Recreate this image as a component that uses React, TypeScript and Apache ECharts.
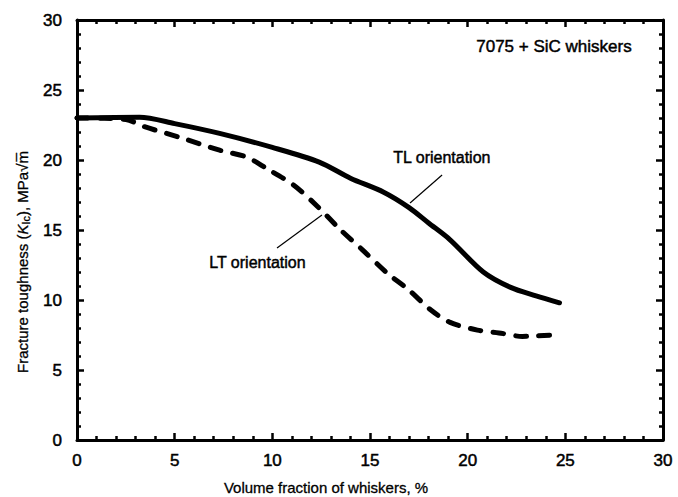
import React, { useEffect, useRef } from "react";
import * as echarts from "echarts";

const tlX = [0, 3.2, 5, 7.3, 10, 12.4, 14, 15.7, 17, 18, 19.1, 20.8, 22.2, 23.5, 24.7];
const tlY = [23.0, 23.05, 22.6, 21.9, 20.9, 19.85, 18.7, 17.7, 16.6, 15.5, 14.3, 12.0, 10.9, 10.3, 9.8];
const ltX = [0, 2.5, 3.4, 5.3, 7.3, 8.7, 9.7, 11.1, 12.3, 13.5, 14.6, 15.9, 17.0, 18.1, 19.1, 20.5, 21.6, 22.8, 24.4];
const ltY = [23.0, 22.9, 22.4, 21.6, 20.7, 20.2, 19.4, 18.2, 16.7, 15.0, 13.6, 11.9, 10.7, 9.3, 8.4, 7.85, 7.65, 7.4, 7.5];
const tlLeader = [[18.69, 18.93], [17.05, 16.93]];
const ltLeader = [[12.54, 16.07], [10.24, 13.71]];
const xTicks = [0, 5, 10, 15, 20, 25, 30];
const yTicks = [0, 5, 10, 15, 20, 25, 30];

const FONT = "'Liberation Sans', Arial, sans-serif";
const STROKE = { stroke: "#000", lineWidth: 0.45 };

export default function App() {
  const ref = useRef<HTMLDivElement>(null);
  useEffect(() => {
    const chart = echarts.init(ref.current!, null, { renderer: "svg" });
    const axisCommon = (show: boolean, ticks: number[], margin: number) => ({
      type: "value" as const,
      min: 0,
      max: 30,
      interval: 5,
      axisLine: { show: true, onZero: false, lineStyle: { color: "#000", width: 3 } },
      axisTick: { show: true, inside: true, length: 7, lineStyle: { color: "#000", width: 2.5 } },
      minorTick: { show: true, splitNumber: 5, length: 4, lineStyle: { color: "#000", width: 2.5 } },
      splitLine: { show: false },
      axisLabel: {
        show,
        color: "#000",
        fontSize: 17,
        fontFamily: FONT,
        margin,
        textBorderColor: "#000",
        textBorderWidth: 0.5,
        formatter: (v: number) => (ticks.includes(v) ? String(v) : ""),
      },
    });
    chart.setOption({
      animation: false,
      grid: { left: 77, right: 15, top: 20, bottom: 57, containLabel: false },
      xAxis: [
        { ...axisCommon(true, xTicks, 12), position: "bottom" },
        { ...axisCommon(false, xTicks, 12), position: "top" },
      ],
      yAxis: [
        { ...axisCommon(true, yTicks, 15), position: "left" },
        { ...axisCommon(false, yTicks, 15), position: "right" },
      ],
      series: [
        {
          name: "TL orientation",
          type: "line",
          xAxisIndex: 0,
          yAxisIndex: 0,
          data: tlX.map((x, i) => [x, tlY[i]]),
          smooth: 0.3,
          showSymbol: false,
          lineStyle: { color: "#000", width: 5, cap: "round", join: "round" },
          silent: true,
        },
        {
          name: "LT orientation",
          type: "line",
          xAxisIndex: 0,
          yAxisIndex: 0,
          data: ltX.map((x, i) => [x, ltY[i]]),
          smooth: 0.3,
          showSymbol: false,
          lineStyle: { color: "#000", width: 5, type: [11, 12], cap: "round", join: "round" },
          silent: true,
        },
        {
          type: "line",
          xAxisIndex: 0,
          yAxisIndex: 0,
          data: tlLeader,
          showSymbol: false,
          lineStyle: { color: "#000", width: 1.2 },
          silent: true,
        },
        {
          type: "line",
          xAxisIndex: 0,
          yAxisIndex: 0,
          data: ltLeader,
          showSymbol: false,
          lineStyle: { color: "#000", width: 1.2 },
          silent: true,
        },
      ],
      graphic: [
        {
          type: "text",
          left: 476,
          top: 38,
          style: { text: "7075 + SiC whiskers", fill: "#000", font: `17px ${FONT}`, ...STROKE },
        },
        {
          type: "text",
          left: 393,
          top: 149,
          style: { text: "TL orientation", fill: "#000", font: `16px ${FONT}`, ...STROKE },
        },
        {
          type: "text",
          left: 209,
          top: 254,
          style: { text: "LT orientation", fill: "#000", font: `16px ${FONT}`, ...STROKE },
        },
        {
          type: "text",
          x: 326,
          y: 487,
          style: {
            text: "Volume fraction of whiskers, %",
            fill: "#000",
            font: `15px ${FONT}`,
            align: "center",
            verticalAlign: "middle",
            ...STROKE,
            lineWidth: 0.3,
          },
        },
        {
          type: "text",
          x: 22,
          y: 262,
          rotation: Math.PI / 2,
          style: {
            text: "Fracture toughness ({i|K}{s|Ic}), MPa√m̅",
            fill: "#000",
            font: `15px ${FONT}`,
            align: "center",
            verticalAlign: "middle",
            ...STROKE,
            lineWidth: 0.3,
            rich: {
              i: { font: `italic 15px ${FONT}`, fill: "#000" },
              s: { font: `11px ${FONT}`, fill: "#000", padding: [8, 0, 0, 0] },
            },
          },
        },
      ],
    });
    return () => chart.dispose();
  }, []);
  return <div ref={ref} style={{ width: 678, height: 497, position: "absolute", left: 0, top: 0 }} />;
}
